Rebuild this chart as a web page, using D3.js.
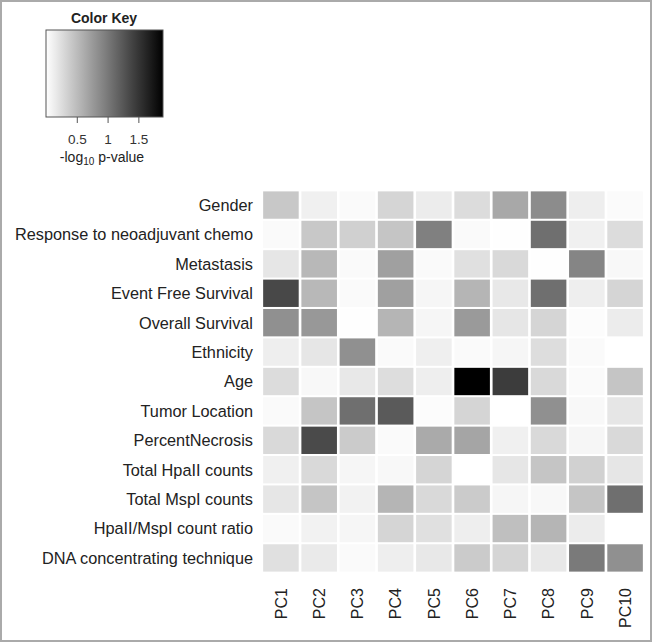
<!DOCTYPE html>
<html><head><meta charset="utf-8">
<script src="https://cdn.jsdelivr.net/npm/d3@7"></script>
<style>body{margin:0;background:#fff;}svg{display:block;font-family:"Liberation Sans",Arial,sans-serif;}</style>
</head><body>
<script>
const rows = ["Gender","Response to neoadjuvant chemo","Metastasis","Event Free Survival","Overall Survival","Ethnicity","Age","Tumor Location","PercentNecrosis","Total HpaII counts","Total MspI counts","HpaII/MspI count ratio","DNA concentrating technique"];
const cols = ["PC1","PC2","PC3","PC4","PC5","PC6","PC7","PC8","PC9","PC10"];
// -log10 p-values, rows x columns
const values = [
  [0.41,0.11,0.04,0.31,0.14,0.26,0.65,0.86,0.13,0.03],
  [0.04,0.41,0.35,0.43,0.95,0.04,0.01,1.07,0.11,0.26],
  [0.19,0.53,0.04,0.71,0.04,0.23,0.28,0.01,0.91,0.05],
  [1.36,0.53,0.04,0.71,0.07,0.55,0.17,1.07,0.13,0.31],
  [0.83,0.77,0.01,0.55,0.07,0.75,0.19,0.31,0.02,0.14],
  [0.13,0.19,0.83,0.04,0.12,0.04,0.07,0.25,0.04,0.00],
  [0.26,0.05,0.17,0.25,0.13,1.90,1.45,0.28,0.04,0.43],
  [0.04,0.43,1.07,1.23,0.02,0.31,0.00,0.83,0.05,0.19],
  [0.28,1.35,0.39,0.04,0.63,0.67,0.11,0.28,0.07,0.28],
  [0.11,0.28,0.07,0.05,0.31,0.00,0.19,0.43,0.34,0.19],
  [0.19,0.43,0.10,0.55,0.28,0.39,0.07,0.05,0.43,1.07],
  [0.04,0.10,0.07,0.31,0.23,0.13,0.48,0.55,0.14,0.00],
  [0.23,0.16,0.04,0.13,0.17,0.39,0.31,0.17,0.99,0.83]
];
const keyTicks = [0.5, 1, 1.5];
const keyDomain = [0, 1.9];

const W = 653, H = 643;
const svg = d3.select("body").append("svg").attr("width", W).attr("height", H);
svg.append("rect").attr("x",1).attr("y",1).attr("width",650).attr("height",640)
  .attr("fill","#fff").attr("stroke","#aaa").attr("stroke-width",2);

const color = d3.scaleLinear().domain(keyDomain).range(["#ffffff","#000000"]).clamp(true);

const x = d3.scaleBand().domain(cols).range([262, 644]).paddingInner(0.07).paddingOuter(0.03);
const y = d3.scaleBand().domain(rows).range([190.5, 572.5]).paddingInner(0.07).paddingOuter(0.03);

const cells = [];
values.forEach((r,i)=>r.forEach((v,j)=>cells.push({row:rows[i],col:cols[j],v})));
svg.append("g").selectAll("rect").data(cells).join("rect")
  .attr("x",d=>x(d.col)).attr("y",d=>y(d.row))
  .attr("width",x.bandwidth()).attr("height",y.bandwidth())
  .attr("fill",d=>color(d.v));

svg.append("g").selectAll("text").data(rows).join("text")
  .attr("x",253).attr("y",d=>y(d)+y.bandwidth()/2).attr("dy","0.36em")
  .attr("text-anchor","end").attr("font-size",16.3).attr("fill","#222").text(d=>d);

svg.append("g").selectAll("text").data(cols).join("text")
  .attr("transform",d=>`translate(${x(d)+x.bandwidth()/2},588) rotate(-90)`)
  .attr("dy","0.36em").attr("text-anchor","end").attr("font-size",16).attr("fill","#222").text(d=>d);

// Color key
const kx = d3.scaleLinear().domain(keyDomain).range([46, 163]);
const defs = svg.append("defs");
const grad = defs.append("linearGradient").attr("id","kg");
d3.range(0,1.0001,0.1).forEach(t=>grad.append("stop").attr("offset",t).attr("stop-color",color(keyDomain[0]+t*(keyDomain[1]-keyDomain[0]))));
svg.append("rect").attr("x",kx(keyDomain[0])).attr("y",30).attr("width",kx(keyDomain[1])-kx(keyDomain[0])).attr("height",87)
  .attr("fill","url(#kg)").attr("stroke","#555").attr("stroke-width",1);
const kaxis = d3.axisBottom(kx).tickValues(keyTicks).tickFormat(d3.format("")).tickSize(6).tickPadding(11);
const ka = svg.append("g").attr("transform","translate(0,117)").call(kaxis);
ka.select(".domain").remove();
ka.selectAll("line").attr("stroke","#555");
ka.selectAll("text").attr("font-size",13.5).attr("fill","#333").attr("font-family","Liberation Sans, Arial, sans-serif");
svg.append("text").attr("x",104).attr("y",23).attr("text-anchor","middle").attr("font-size",14).attr("font-weight","bold").attr("fill","#222").text("Color Key");
const lab = svg.append("text").attr("x",102).attr("y",162).attr("text-anchor","middle").attr("font-size",14).attr("fill","#222");
lab.append("tspan").text("-log");
lab.append("tspan").attr("font-size",10).attr("dy",3).text("10");
lab.append("tspan").attr("dy",-3).text(" p-value");
</script>
</body></html>
